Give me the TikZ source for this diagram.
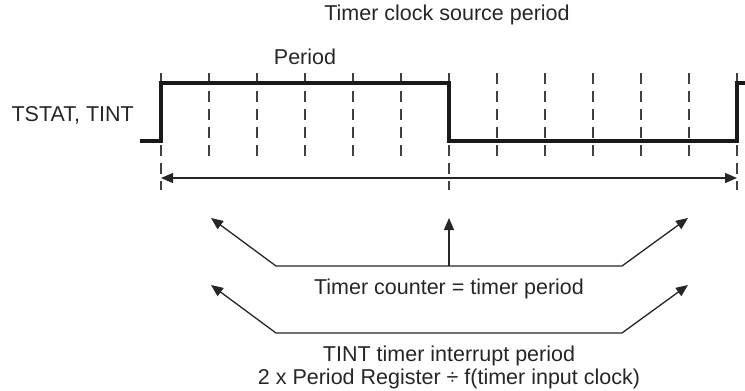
\documentclass[tikz,border=0pt]{standalone}
\usepackage{fontspec}
\setmainfont{Liberation Sans}
\usetikzlibrary{arrows.meta}
\tikzset{
  lbl/.style={font=\fontsize{21.5}{23}\selectfont, inner sep=0pt, align=center, text=black!85},
  wave/.style={line width=3.4pt, line join=miter, draw=black!90},
  tick/.style={line width=1.1pt, dash pattern=on 11pt off 7pt, draw=black!75},
  arr/.style={-{Triangle[length=12pt,width=10pt]}, line width=1.3pt, draw=black!85},
  arr2/.style={{Triangle[length=12pt,width=10pt]}-{Triangle[length=12pt,width=10pt]}, line width=1.3pt, draw=black!85},
}
\begin{document}
\begin{tikzpicture}[x=1pt,y=-1pt]
  \useasboundingbox (0,0) rectangle (745,391);
  % labels
  \node[lbl] (title) at (447,15) {Timer clock source period};
  \node[lbl] (perlbl) at (305,57) {Period};
  \node[lbl,anchor=east] (siglbl) at (134,115) {TSTAT, TINT};
  % clock source ticks
  \foreach \i in {0,...,12}{\draw[tick] (161+48*\i,73) -- (161+48*\i,160);}
  \foreach \i in {0,6,12}{\draw[tick] (161+48*\i,73) -- (161+48*\i,190);}
  % TSTAT / TINT waveform
  \draw[wave] (140,141) -- (161,141) -- (161,83) -- (449,83) -- (449,141) -- (737,141) -- (737,83) -- (746,83);
  % full period
  \coordinate (pl) at (161,178);
  \coordinate (pr) at (737,178);
  \draw[arr2] (pl) -- (pr);
  % timer counter = period
  \coordinate (cl) at (211,218);
  \coordinate (cr) at (688,218);
  \coordinate (cm) at (449,218);
  \coordinate (cbl) at (276,266);
  \coordinate (cbr) at (622,266);
  \draw[arr2] (cl) -- (cbl) -- (cbr) -- (cr);
  \draw[arr] (cbl -| cm) -- (cm);
  \node[lbl] (cntlbl) at (449,289) {Timer counter = timer period};
  % interrupt period
  \coordinate (il) at (211,285);
  \coordinate (ir) at (688,285);
  \coordinate (ibl) at (276,333);
  \coordinate (ibr) at (622,333);
  \draw[arr2] (il) -- (ibl) -- (ibr) -- (ir);
  \node[lbl] (intlbl) at (449,367) {TINT timer interrupt period\\2 x Period Register ÷ f(timer input clock)};
\end{tikzpicture}
\end{document}
